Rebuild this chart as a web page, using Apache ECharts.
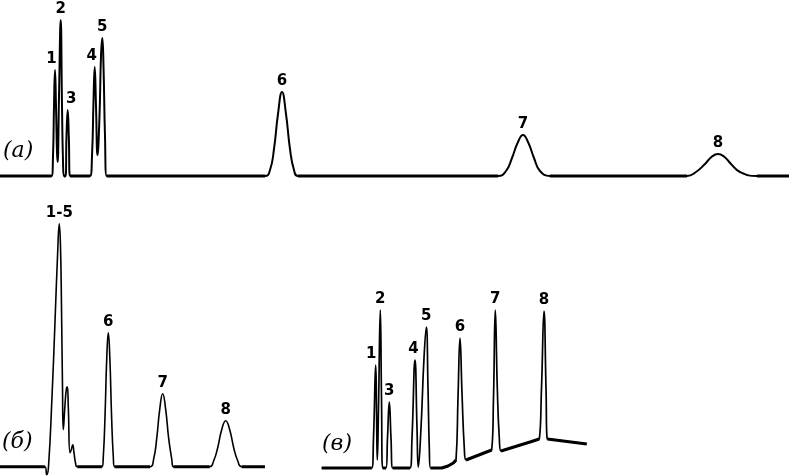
<!DOCTYPE html>
<html>
<head>
<meta charset="utf-8">
<script src="https://cdn.jsdelivr.net/npm/echarts@6/dist/echarts.min.js"></script>
<style>
  html, body { margin: 0; padding: 0; background: #fff; }
  #grafica { width: 789px; height: 476px; }
</style>
</head>
<body>
<div id="grafica"></div>
<script>
// (а) separate column: retention vs. detector signal
const peaksA = ["1", "2", "3", "4", "5", "6", "7", "8"];
const peakTimeA = [55, 60.7, 67.7, 94.7, 102.3, 282, 523, 718];
const peakHeightA = [106, 156, 66, 109, 138, 84, 41, 22];
const traceA = [
  [0, 0], [51.5, 0], [53, 20], [54, 70], [55, 106], [56, 70], [57, 24], [57.6, 14],
  [59, 80], [60.7, 156], [62, 70], [63, 15], [64, 0], [65.5, 0], [66.5, 40], [67.7, 66],
  [68.8, 40], [70, 0], [90, 0], [92, 20], [93.5, 75], [94.7, 109], [96, 70], [97.5, 21],
  [99.5, 60], [101, 120], [102.3, 138], [103.5, 110], [105, 40], [106.7, 0],
  [265, 0], [270, 6], [274, 27], [278, 62], [282, 84], [286, 62], [290, 27], [294, 6], [298, 0],
  [498, 0], [506, 5], [512, 18], [518, 34], [523, 41], [528, 34], [534, 18], [540, 5], [550, 0],
  [687, 0], [696, 4], [705, 12], [712, 19.5], [718, 22], [724, 19.5], [731, 12], [740, 4], [757, 0],
  [789, 0]
];
const baseA = [
  [0, 0], [51.5, 0], [58, null], [64, 0], [65.5, 0], [68, null], [70, 0], [90, 0], [98, null],
  [106.7, 0], [265, 0], [280, null], [298, 0], [498, 0], [520, null], [550, 0], [687, 0],
  [720, null], [757, 0], [789, 0]
];

// (б)
const peaksB = ["1-5", "6", "7", "8"];
const peakTimeB = [59.3, 108.3, 162.7, 225.7];
const peakHeightB = [243, 134, 73, 46];
const traceB = [
  [0, 0], [45, 0], [46.7, -8], [48.5, 0], [52, 70], [55, 145], [57.5, 210], [59.3, 243],
  [60.5, 220], [61.5, 160], [62.5, 80], [63.3, 37], [65, 62], [66.3, 77], [67.3, 80],
  [68.3, 60], [70, 14], [71.3, 17], [72.7, 22], [74, 14], [75.5, 4], [77.3, 0],
  [102, 0], [103.3, 10], [105, 50], [106.8, 110], [108.3, 134], [109.8, 110], [111.6, 50],
  [113.3, 10], [114.6, 0],
  [150, 0], [153.7, 8], [156.7, 28], [159.7, 57], [162.7, 73], [165.7, 57], [168.7, 28],
  [171.7, 8], [173.5, 0],
  [209.7, 0], [213.7, 6], [217.7, 19], [221.7, 37], [225.7, 46], [229.7, 37], [233.7, 19],
  [237.7, 6], [241.7, 0],
  [265, 0]
];
const baseB = [
  [0, 0], [45, 0], [60, null], [77.3, 0], [102, 0], [108, null], [114.6, 0], [150, 0],
  [160, null], [173.5, 0], [209.7, 0], [225, null], [241.7, 0], [265, 0]
];

// (в)
const peaksC = ["1", "2", "3", "4", "5", "6", "7", "8"];
const peakTimeC = [375.7, 380.3, 389.3, 415, 426.3, 460, 495.3, 544];
const peakHeightC = [103, 158, 66, 108, 141, 130, 158, 157];
const traceC = [
  [321.7, 0], [371.7, 0], [373.5, 30], [375.7, 103], [376.6, 50], [377.3, 8], [378.5, 60],
  [380.3, 158], [381.5, 70], [382.7, 0], [386, 0], [387.5, 30], [389.3, 66], [391, 30],
  [392.7, 0], [410, 0], [412, 30], [415, 108], [417, 40], [418.3, 1], [421, 40], [424, 110],
  [426.3, 141], [428, 80], [429.3, 20], [430.5, 0], [441.7, 0], [448, 2], [453.3, 5],
  [456, 8], [458, 70], [460, 130], [462, 75], [464.3, 20], [466, 8], [468.5, 9], [489.5, 17.2],
  [491.7, 18], [493.5, 70], [495.3, 158], [497.3, 80], [499.3, 30], [501, 17], [503, 17.6],
  [530, 26], [537.5, 28.5], [539.3, 29], [541.5, 80], [544, 157], [546, 80], [547.3, 29],
  [549.5, 28.8], [586.7, 24]
];
const baseC = [
  [321.7, 0], [371.7, 0], [376, null], [382.7, 0], [386, 0], [389, null], [392.7, 0],
  [410, 0], [420, null], [430.5, 0], [441.7, 0], [448, 2], [453.3, 5], [456, 8], [460, null],
  [466, 8], [491.7, 18], [495, null], [501, 17], [530, 26], [539.3, 29], [544, null],
  [547.3, 29], [586.7, 24]
];

const ink = "#000";

const traceSeries = (data, idx, width) => ({
  type: "line",
  xAxisIndex: idx,
  yAxisIndex: idx,
  data: data,
  smooth: 0.5,
  symbol: "none",
  clip: false,
  silent: true,
  lineStyle: { color: ink, width: width },
});

const baseSeries = (data, idx) => ({
  type: "line",
  xAxisIndex: idx,
  yAxisIndex: idx,
  data: data,
  connectNulls: false,
  symbol: "none",
  clip: false,
  silent: true,
  lineStyle: { color: ink, width: 3 },
});

// label nudges (px) for the crowded peaks
const labelSeries = (names, times, heights, idx, shift) => ({
  type: "scatter",
  xAxisIndex: idx,
  yAxisIndex: idx,
  symbolSize: 0,
  silent: true,
  itemStyle: { opacity: 1, color: ink },
  data: names.map((n, i) => ({
    value: [times[i], heights[i], n],
    label: { offset: [shift[n] || 0, 0] },
  })),
  label: {
    show: true,
    position: "top",
    distance: 3,
    formatter: (p) => p.value[2],
    fontFamily: "DejaVu Sans",
    fontSize: 15,
    fontWeight: "bold",
    color: ink,
    opacity: 1,
  },
});

const panelTitle = (text, left, top) => ({
  type: "text",
  left: left,
  top: top,
  style: {
    text: text,
    font: "italic 22px 'DejaVu Serif'",
    fill: ink,
  },
});

const getOptionChart = () => {
  return {
    animation: false,
    grid: [
      { left: 0, top: 0, width: 789, height: 176 },
      { left: 0, top: 200, width: 265, height: 266.7 },
      { left: 310, top: 280, width: 290, height: 188 },
    ],
    xAxis: [
      { type: "value", gridIndex: 0, min: 0, max: 789, show: false },
      { type: "value", gridIndex: 1, min: 0, max: 265, show: false },
      { type: "value", gridIndex: 2, min: 310, max: 600, show: false },
    ],
    yAxis: [
      { type: "value", gridIndex: 0, min: 0, max: 176, show: false },
      { type: "value", gridIndex: 1, min: 0, max: 266.7, show: false },
      { type: "value", gridIndex: 2, min: 0, max: 188, show: false },
    ],
    graphic: [
      panelTitle("(а)", 3, 140),
      panelTitle("(б)", 2, 431),
      panelTitle("(в)", 322, 433),
    ],
    series: [
      baseSeries(baseA, 0),
      traceSeries(traceA, 0, 2),
      labelSeries(peaksA, peakTimeA, peakHeightA, 0, { "1": -3.5, "3": 3.5, "4": -3 }),
      baseSeries(baseB, 1),
      traceSeries(traceB, 1, 1.6),
      labelSeries(peaksB, peakTimeB, peakHeightB, 1, {}),
      baseSeries(baseC, 2),
      traceSeries(traceC, 2, 1.7),
      labelSeries(peaksC, peakTimeC, peakHeightC, 2, { "1": -4.5, "4": -1.5 }),
    ],
  };
};

const initCharts = () => {
  const chart = echarts.init(document.querySelector("#grafica"));
  chart.setOption(getOptionChart());
};

initCharts();
</script>
</body>
</html>
